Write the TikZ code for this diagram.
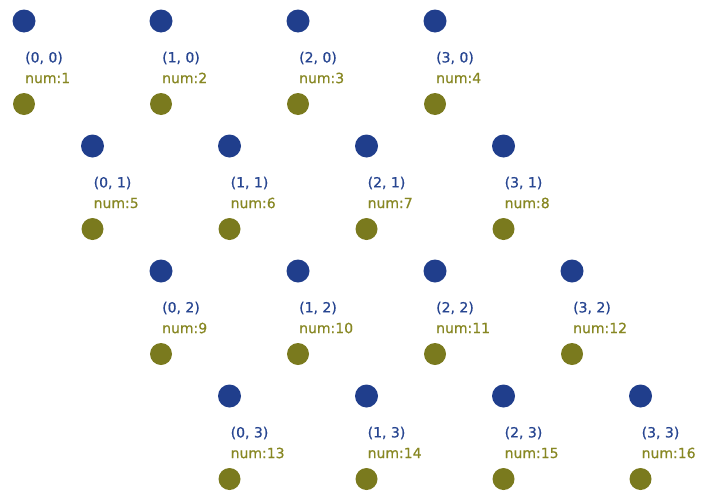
\documentclass[tikz,border=0pt]{standalone}
\usepackage{fontspec}
\setmainfont{DejaVu Sans}
\newfontfamily\lblfont[FakeBold=0.6]{DejaVu Sans}
\definecolor{dotblue}{RGB}{32,62,140}
\definecolor{dotolive}{RGB}{122,122,30}
\definecolor{txtblue}{RGB}{40,70,145}
\definecolor{txtolive}{RGB}{135,135,35}
\tikzset{
  bdot/.style={circle,fill=dotblue,minimum size=23pt,inner sep=0pt},
  odot/.style={circle,fill=dotolive,minimum size=22pt,inner sep=0pt},
  coordlbl/.style={anchor=west,inner sep=0pt,text=txtblue,font=\lblfont\fontsize{14}{15}\selectfont},
  numlbl/.style={anchor=west,inner sep=0pt,text=txtolive,font=\lblfont\fontsize{14}{15}\selectfont},
}
\begin{document}
\begin{tikzpicture}[x=1pt,y=-1pt]
\useasboundingbox (0,0) rectangle (701,498);
\foreach \j in {0,...,3}{
  \foreach \i in {0,...,3}{
    \pgfmathsetmacro{\px}{24+137*\i+68.5*\j}
    \pgfmathsetmacro{\py}{21+125*\j}
    \pgfmathtruncatemacro{\n}{4*\j+\i+1}
    \node[bdot] (b-\i-\j) at (\px,\py) {};
    \node[coordlbl] (c-\i-\j) at (\px+1,\py+37) {(\i, \j)};
    \node[numlbl] (n-\i-\j) at (\px+1,\py+57) {num:\n};
    \node[odot] (g-\i-\j) at (\px,\py+83) {};
  }
}
\end{tikzpicture}
\end{document}
